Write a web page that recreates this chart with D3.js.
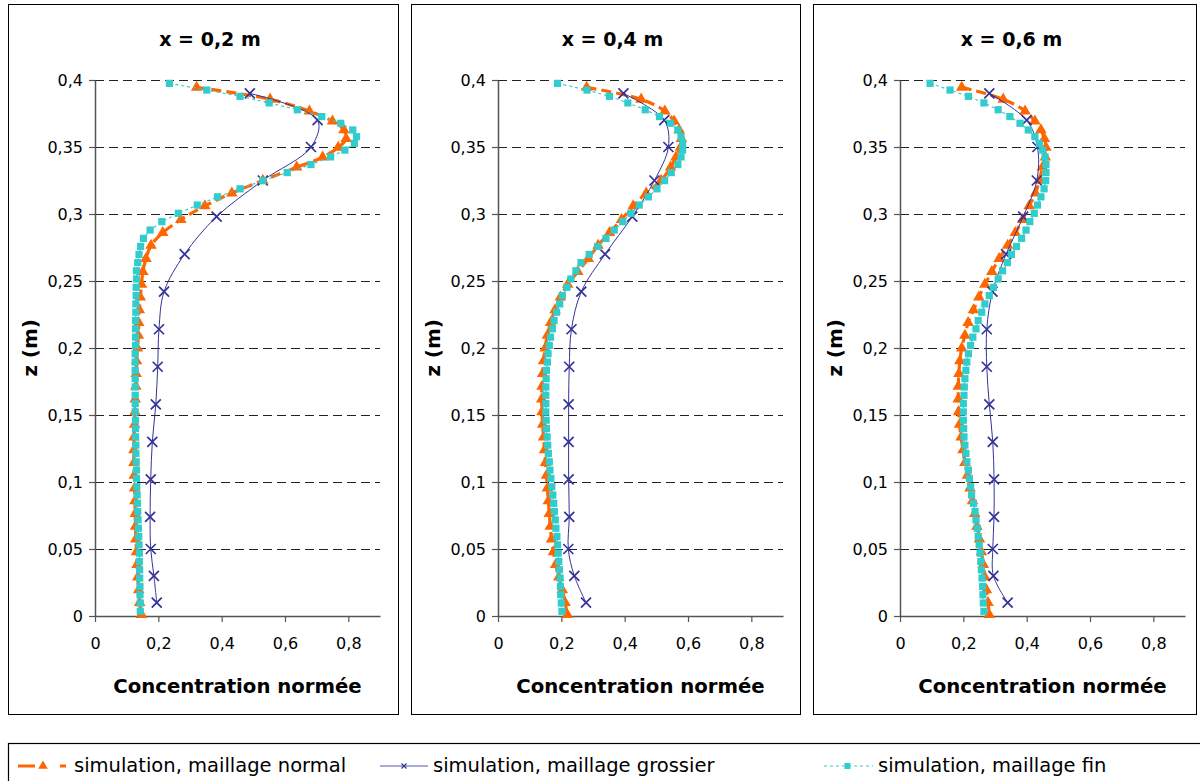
<!DOCTYPE html>
<html><head><meta charset="utf-8">
<script src="https://cdn.jsdelivr.net/npm/d3@7"></script>
<style>body{margin:0;background:#fff}svg{display:block}</style>
</head><body><svg id="chart" width="1200" height="781"></svg>
<script>
// ---------- data ----------
const panelTitles = ["x = 0,2 m", "x = 0,4 m", "x = 0,6 m"];
const seriesNames = ["simulation, maillage normal", "simulation, maillage grossier", "simulation, maillage fin"];
const xTicks = [0, 0.2, 0.4, 0.6, 0.8];
const xTickLabels = ["0", "0,2", "0,4", "0,6", "0,8"];
const yTicks = [0, 0.05, 0.1, 0.15, 0.2, 0.25, 0.3, 0.35, 0.4];
const yTickLabels = ["0", "0,05", "0,1", "0,15", "0,2", "0,25", "0,3", "0,35", "0,4"];
const xLabel = "Concentration normée";
const yLabel = "z (m)";

const zNormal = [0.3945, 0.3856, 0.3768, 0.3692, 0.3627, 0.3563, 0.3497, 0.3424, 0.3349, 0.3250, 0.3156, 0.3060, 0.2958, 0.2860, 0.2765, 0.2667, 0.2569,
  0.2474, 0.2379, 0.2284, 0.2189, 0.2094, 0.1999, 0.1904, 0.1809, 0.1714, 0.1619, 0.1524, 0.1429, 0.1334, 0.1239, 0.1144, 0.1049, 0.0954, 0.0859, 0.0764, 0.0669, 0.0574, 0.0479, 0.0384, 0.0289, 0.0194, 0.0099, 0.0010];
const zCoarse = [0.39, 0.37, 0.35, 0.325, 0.298, 0.27, 0.242, 0.214, 0.186, 0.158, 0.13, 0.102, 0.074, 0.05, 0.03, 0.01];
const zFine = [0.3975, 0.3925, 0.3878, 0.3829, 0.3778, 0.3727, 0.3677, 0.3627, 0.3577, 0.3527, 0.3477, 0.3426, 0.3369, 0.3309, 0.3249, 0.3188, 0.3128, 0.3067, 0.3005, 0.2943, 0.2880, 0.2818, 0.2758, 0.2698, 0.2637, 0.2576, 0.2515,
  0.2453, 0.2391, 0.2329, 0.2267, 0.2205, 0.2143, 0.2081, 0.2019, 0.1957, 0.1895, 0.1833, 0.1771, 0.1709, 0.1647, 0.1585, 0.1523, 0.1461, 0.1399, 0.1337, 0.1275, 0.1213, 0.1151, 0.1089, 0.1027, 0.0965, 0.0903, 0.0841, 0.0779, 0.0717, 0.0655, 0.0593, 0.0531, 0.0469, 0.0407, 0.0345, 0.0283, 0.0221, 0.0159, 0.0097, 0.0035];

// x = 0,2 m
const normal02 = [0.321, 0.553, 0.677, 0.750, 0.786, 0.793, 0.768, 0.719, 0.637, 0.530, 0.432, 0.347, 0.271, 0.214, 0.177, 0.161, 0.151,
  0.147, 0.143, 0.140, 0.138, 0.137, 0.134, 0.131, 0.130, 0.129, 0.127, 0.126, 0.125, 0.123, 0.123, 0.123, 0.124, 0.125, 0.126, 0.127, 0.128, 0.129, 0.131, 0.133, 0.135, 0.138, 0.141, 0.147];
const coarse02 = [0.489, 0.703, 0.682, 0.530, 0.384, 0.283, 0.218, 0.202, 0.198, 0.192, 0.181, 0.176, 0.174, 0.176, 0.186, 0.195];
const fine02 = [0.235, 0.353, 0.458, 0.550, 0.639, 0.716, 0.776, 0.814, 0.826, 0.819, 0.789, 0.744, 0.682, 0.607, 0.530, 0.458, 0.387, 0.323, 0.263, 0.211, 0.174, 0.153, 0.144, 0.139, 0.135, 0.131, 0.131,
  0.130, 0.130, 0.129, 0.129, 0.128, 0.128, 0.128, 0.128, 0.127, 0.127, 0.127, 0.127, 0.127, 0.127, 0.127, 0.127, 0.128, 0.128, 0.128, 0.129, 0.129, 0.130, 0.131, 0.131, 0.132, 0.133, 0.134, 0.135, 0.136, 0.137, 0.138, 0.139, 0.140, 0.140, 0.141, 0.141, 0.142, 0.142, 0.143, 0.143];

// x = 0,4 m
const normal04 = [0.280, 0.452, 0.527, 0.556, 0.572, 0.579, 0.576, 0.562, 0.545, 0.515, 0.468, 0.427, 0.390, 0.352, 0.316, 0.285, 0.252,
  0.220, 0.197, 0.180, 0.166, 0.156, 0.149, 0.144, 0.141, 0.139, 0.138, 0.139, 0.141, 0.144, 0.147, 0.150, 0.153, 0.156, 0.159, 0.162, 0.165, 0.169, 0.175, 0.182, 0.192, 0.203, 0.212, 0.219];
const coarse04 = [0.396, 0.525, 0.538, 0.494, 0.424, 0.338, 0.263, 0.232, 0.225, 0.223, 0.223, 0.223, 0.225, 0.222, 0.241, 0.278];
const fine04 = [0.188, 0.281, 0.352, 0.410, 0.465, 0.510, 0.545, 0.568, 0.578, 0.583, 0.583, 0.578, 0.568, 0.547, 0.526, 0.502, 0.475, 0.446, 0.420, 0.394, 0.367, 0.341, 0.315, 0.288, 0.262, 0.246, 0.230,
  0.218, 0.203, 0.195, 0.185, 0.177, 0.172, 0.166, 0.162, 0.158, 0.156, 0.153, 0.152, 0.151, 0.151, 0.151, 0.151, 0.152, 0.153, 0.155, 0.157, 0.159, 0.162, 0.164, 0.167, 0.170, 0.173, 0.176, 0.178, 0.181, 0.183, 0.186, 0.188, 0.190, 0.192, 0.194, 0.196, 0.197, 0.198, 0.200, 0.202];

// x = 0,6 m
const normal06 = [0.195, 0.326, 0.395, 0.426, 0.445, 0.456, 0.461, 0.459, 0.450, 0.440, 0.428, 0.408, 0.387, 0.364, 0.340, 0.313, 0.290,
  0.268, 0.249, 0.232, 0.215, 0.205, 0.195, 0.189, 0.186, 0.184, 0.184, 0.185, 0.188, 0.193, 0.199, 0.205, 0.213, 0.221, 0.229, 0.236, 0.243, 0.251, 0.257, 0.263, 0.268, 0.273, 0.278, 0.282];
const coarse06 = [0.282, 0.400, 0.434, 0.432, 0.389, 0.335, 0.292, 0.274, 0.274, 0.282, 0.293, 0.297, 0.297, 0.293, 0.295, 0.340];
const fine06 = [0.095, 0.158, 0.216, 0.265, 0.310, 0.347, 0.379, 0.405, 0.426, 0.440, 0.451, 0.458, 0.461, 0.461, 0.460, 0.455, 0.445, 0.434, 0.424, 0.410, 0.398, 0.384, 0.368, 0.352, 0.339, 0.324, 0.310,
  0.295, 0.282, 0.268, 0.258, 0.247, 0.240, 0.230, 0.223, 0.216, 0.211, 0.208, 0.205, 0.203, 0.202, 0.200, 0.200, 0.200, 0.201, 0.202, 0.205, 0.208, 0.211, 0.216, 0.219, 0.223, 0.226, 0.232, 0.237, 0.240, 0.244, 0.247, 0.250, 0.253, 0.255, 0.257, 0.259, 0.261, 0.262, 0.263, 0.265];

const panelNormal = [normal02, normal04, normal06];
const panelCoarse = [coarse02, coarse04, coarse06];
const panelFine = [fine02, fine04, fine06];

// ---------- styles ----------
const C_NORMAL = "#FF6600", C_COARSE = "#333399", C_FINE = "#33CCCC";
const FONT = "'DejaVu Sans', Verdana, sans-serif";

const svg = d3.select("#chart");
svg.append("rect").attr("width", 1200).attr("height", 781).attr("fill", "#fff");

const frames = [{x0: 8, x1: 398}, {x0: 411, x1: 800}, {x0: 813, x1: 1196}];
const frameTop = 4, frameBottom = 714;
const plotTop = 80, plotBottom = 616, plotW = 285;

const zip = (zs, cs) => zs.slice(0, Math.min(zs.length, cs.length)).map((z, i) => ({z, c: cs[i]}));

const xPath = s => `M${-s},${-s}L${s},${s}M${-s},${s}L${s},${-s}`;

frames.forEach((f, p) => {
  const plotLeft = f.x0 + 87;
  const x = d3.scaleLinear().domain([0, 0.9]).range([plotLeft, plotLeft + plotW]);
  const y = d3.scaleLinear().domain([0, 0.4]).range([plotBottom, plotTop]);
  const g = svg.append("g");

  g.append("rect").attr("x", f.x0 + 0.5).attr("y", frameTop + 0.5)
    .attr("width", f.x1 - f.x0).attr("height", frameBottom - frameTop)
    .attr("fill", "#fff").attr("stroke", "#000").attr("stroke-width", 1);

  // gridlines
  g.selectAll("line.grid").data(yTicks.filter(v => v > 0)).join("line")
    .attr("x1", x(0)).attr("x2", x(0.9))
    .attr("y1", d => Math.round(y(d)) + 0.5).attr("y2", d => Math.round(y(d)) + 0.5)
    .attr("stroke", "#222").attr("stroke-width", 1).attr("stroke-dasharray", "9,5");

  // axes
  const ya = g.append("g").attr("transform", `translate(${x(0)},0)`)
    .call(d3.axisLeft(y).tickValues(yTicks).tickFormat((d, i) => yTickLabels[i]).tickSize(6).tickSizeOuter(0).tickPadding(6));
  const xa = g.append("g").attr("transform", `translate(0,${plotBottom})`)
    .call(d3.axisBottom(x).tickValues(xTicks).tickFormat((d, i) => xTickLabels[i]).tickSize(6).tickSizeOuter(0).tickPadding(16));
  [ya, xa].forEach(a => {
    a.selectAll("path.domain").attr("stroke", "#555").attr("stroke-width", 1.5);
    a.selectAll(".tick line").attr("stroke", "#555").attr("stroke-width", 1.2);
    a.selectAll("text").attr("font-family", FONT).attr("font-size", 16).attr("fill", "#000");
  });

  // titles
  g.append("text").attr("x", (f.x0 + f.x1) / 2 + 7).attr("y", 46).attr("text-anchor", "middle")
    .attr("font-family", FONT).attr("font-weight", "bold").attr("font-size", 19).text(panelTitles[p]);
  g.append("text").attr("x", (x(0) + x(0.9)) / 2).attr("y", 693).attr("text-anchor", "middle")
    .attr("font-family", FONT).attr("font-weight", "bold").attr("font-size", 19.7).text(xLabel);
  g.append("text").attr("transform", `translate(${f.x0 + 22},348) rotate(-90)`).attr("dy", "0.36em")
    .attr("text-anchor", "middle").attr("font-family", FONT).attr("font-weight", "bold").attr("font-size", 20).text(yLabel);

  // series
  const dN = zip(zNormal, panelNormal[p]);
  const dC = zip(zCoarse, panelCoarse[p]);
  const dF = zip(zFine, panelFine[p]);
  const line = d3.line().x(d => x(d.c)).y(d => y(d.z));
  const smooth = d3.line().x(d => x(d.c)).y(d => y(d.z)).curve(d3.curveCatmullRom.alpha(0.5));

  g.append("path").datum(dN).attr("d", smooth).attr("fill", "none")
    .attr("stroke", C_NORMAL).attr("stroke-width", 3.2).attr("stroke-dasharray", "10,5");
  g.selectAll("path.tri").data(dN).join("path")
    .attr("transform", d => `translate(${x(d.c)},${y(d.z)})`)
    .attr("d", d3.symbol(d3.symbolTriangle, 58)).attr("fill", C_NORMAL);

  g.append("path").datum(dC).attr("d", smooth).attr("fill", "none")
    .attr("stroke", C_COARSE).attr("stroke-width", 1);
  g.selectAll("path.xm").data(dC).join("path")
    .attr("transform", d => `translate(${x(d.c)},${y(d.z)})`)
    .attr("d", xPath(5)).attr("fill", "none").attr("stroke", C_COARSE).attr("stroke-width", 1.7);

  g.append("path").datum(dF).attr("d", line).attr("fill", "none")
    .attr("stroke", C_FINE).attr("stroke-width", 1.2).attr("stroke-dasharray", "3,3");
  g.selectAll("rect.sq").data(dF).join("rect")
    .attr("x", d => x(d.c) - 3.6).attr("y", d => y(d.z) - 3.6)
    .attr("width", 7.2).attr("height", 7.2).attr("fill", C_FINE);
});

// ---------- legend ----------
const lg = svg.append("g");
lg.append("rect").attr("x", 8.5).attr("y", 743.5).attr("width", 1200).attr("height", 60)
  .attr("fill", "#fff").attr("stroke", "#000").attr("stroke-width", 1.2);
const ly = 766;
const legendItems = [
  {x0: 18, x1: 68, tx: 74, color: C_NORMAL},
  {x0: 380, x1: 428, tx: 433, color: C_COARSE},
  {x0: 824, x1: 873, tx: 878, color: C_FINE}
];
// normal
lg.append("line").attr("x1", legendItems[0].x0).attr("x2", legendItems[0].x1).attr("y1", ly).attr("y2", ly)
  .attr("stroke", C_NORMAL).attr("stroke-width", 3).attr("stroke-dasharray", "17,25,6,10");
lg.append("path").attr("transform", `translate(43,${ly})`).attr("d", d3.symbol(d3.symbolTriangle, 40)).attr("fill", C_NORMAL);
// coarse
lg.append("line").attr("x1", legendItems[1].x0).attr("x2", legendItems[1].x1).attr("y1", ly).attr("y2", ly)
  .attr("stroke", "#5555AA").attr("stroke-width", 1);
lg.append("path").attr("transform", `translate(404,${ly})`).attr("d", xPath(2.5)).attr("stroke", C_COARSE).attr("stroke-width", 1.2);
// fine
lg.append("line").attr("x1", legendItems[2].x0).attr("x2", legendItems[2].x1).attr("y1", ly).attr("y2", ly)
  .attr("stroke", C_FINE).attr("stroke-width", 1.2).attr("stroke-dasharray", "3,3");
lg.append("rect").attr("x", 844.5).attr("y", ly - 3).attr("width", 6).attr("height", 6).attr("fill", C_FINE);

legendItems.forEach((it, i) => {
  lg.append("text").attr("x", it.tx).attr("y", 772).attr("font-family", FONT).attr("font-size", 19.5)
    .attr("fill", "#000").text(seriesNames[i]);
});
</script></body></html>
